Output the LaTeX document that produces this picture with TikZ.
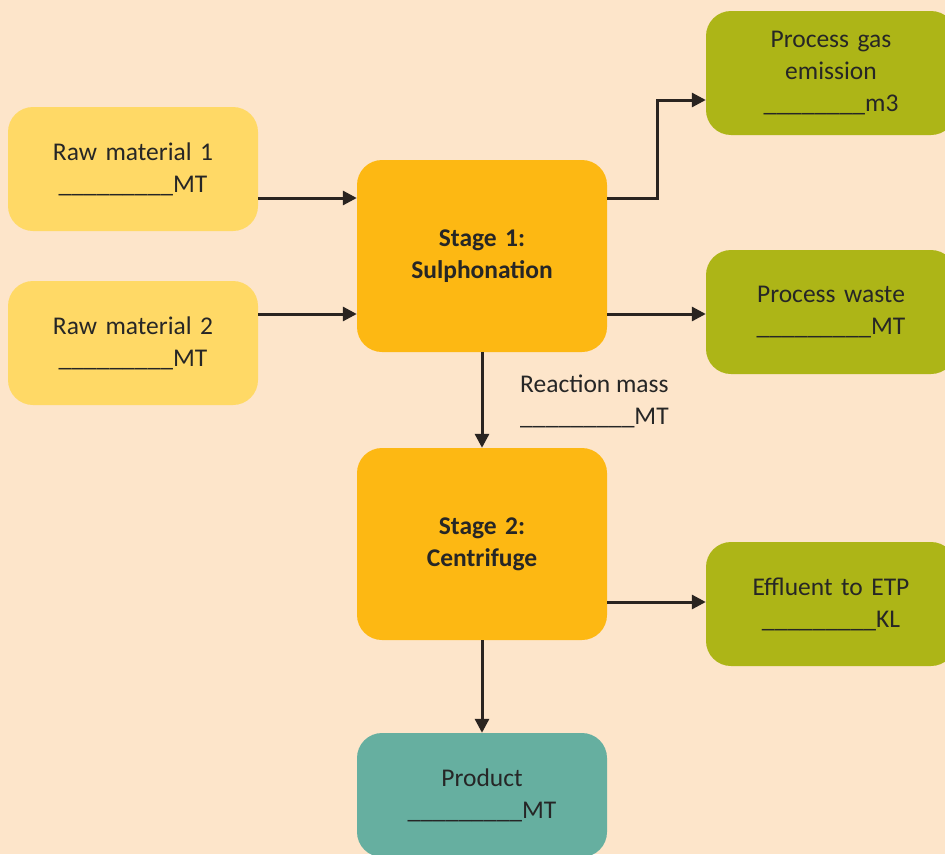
\documentclass[tikz,border=0pt]{standalone}
\usepackage{fontspec}
\setmainfont{Carlito}
\usetikzlibrary{arrows.meta}
\definecolor{bg}{HTML}{FDE5CA}
\definecolor{rawc}{HTML}{FFD966}
\definecolor{stagec}{HTML}{FDB813}
\definecolor{wastec}{HTML}{ADB517}
\definecolor{prodc}{HTML}{66AFA0}
\definecolor{txt}{HTML}{262626}
\definecolor{linec}{HTML}{2A2420}
\tikzset{
  box/.style={rounded corners=25pt, minimum width=250pt, minimum height=124pt,
    text width=240pt, align=center, text=txt, font=\fontsize{25.5}{32}\selectfont, inner sep=0pt},
  rawbox/.style={box, fill=rawc},
  stagebox/.style={box, fill=stagec, minimum height=192pt, font=\fontsize{25.5}{32}\selectfont\bfseries},
  outbox/.style={box, fill=wastec},
  prodbox/.style={box, fill=prodc},
  flow/.style={draw=linec, line width=3pt, -{Triangle[length=14pt,width=14pt]}}
}
\begin{document}
\begin{tikzpicture}[x=1pt,y=-1pt]
\fill[bg] (0,0) rectangle (945,854);
\useasboundingbox (0,0) rectangle (945,854);
\clip (0,0) rectangle (945,854);
\node[rawbox] (rm1) at (133,169) {Raw material 1\\\_\_\_\_\_\_\_\_\_MT};
\node[rawbox] (rm2) at (133,343) {Raw material 2\\\_\_\_\_\_\_\_\_\_MT};
\node[stagebox] (s1) at (482,256) {Stage 1:\\Sulphonation};
\node[stagebox] (s2) at (482,544) {Stage 2:\\Centrifuge};
\node[outbox] (gas) at (831,73) {Process gas\\emission\\\_\_\_\_\_\_\_\_m3};
\node[outbox] (waste) at (831,312) {Process waste\\\_\_\_\_\_\_\_\_\_MT};
\node[outbox] (eff) at (831,604) {Effluent to ETP\\\_\_\_\_\_\_\_\_\_KL};
\node[prodbox] (prod) at (482,795) {Product\\\_\_\_\_\_\_\_\_\_MT};
\node[anchor=west, align=left, text=txt, font=\fontsize{25.5}{32}\selectfont, inner sep=0pt] (rmass) at (520,401) {Reaction mass\\\_\_\_\_\_\_\_\_\_MT};
\draw[flow] (rm1.east |- 0,198) -- (s1.west |- 0,198);
\draw[flow] (rm2.east |- 0,314) -- (s1.west |- 0,314);
\draw[flow] (s1.east |- 0,198) -- (657,198) -- (657,100) -- (gas.west |- 0,100);
\draw[flow] (s1.east |- 0,314) -- (waste.west |- 0,314);
\draw[flow] (s1.south) -- (s2.north);
\draw[flow] (s2.east |- 0,602) -- (eff.west |- 0,602);
\draw[flow] (s2.south) -- (prod.north);
\end{tikzpicture}
\end{document}
